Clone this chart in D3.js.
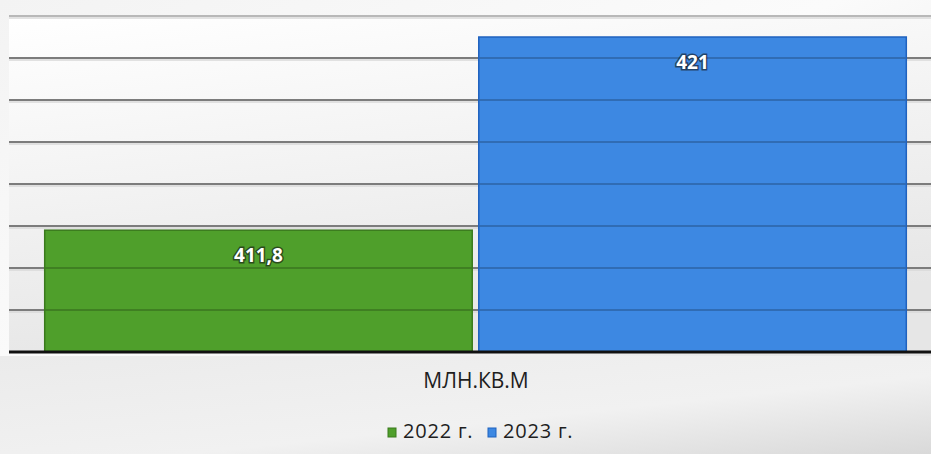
<!DOCTYPE html>
<html>
<head>
<meta charset="utf-8">
<style>
  body { margin: 0; background: #fff; }
  svg { display: block; }
</style>
</head>
<body>
<div id="chart"></div>
<script src="https://cdn.jsdelivr.net/npm/d3@7"></script>
<script>
var category = "МЛН.КВ.М"
var seriesNames = ["2022 г.", "2023 г."]
var seriesValues = [411.8, 421]
var valueLabels = ["411,8", "421"]
var seriesColors = ["#4f9f2b", "#3d88e2"]
var borderColors = ["#3a7a1d", "#1f62bf"]
var yDomain = [406, 422]
var yTicks = [406, 408, 410, 412, 414, 416, 418, 420, 422]

var W = 931, H = 454
// the plot area runs a little past the right edge of the picture
var plot = {left: 9, right: 942, top: 16, bottom: 352}

var svg = d3.select("#chart").append("svg")
  .attr("width", W).attr("height", H)

var defs = svg.append("defs")
var bg = defs.append("linearGradient").attr("id", "bg")
  .attr("x1", 0).attr("y1", 0).attr("x2", 1).attr("y2", 1)
bg.append("stop").attr("offset", "0%").attr("stop-color", "#f3f3f3")
bg.append("stop").attr("offset", "45%").attr("stop-color", "#fbfbfb")
bg.append("stop").attr("offset", "100%").attr("stop-color", "#dedede")

var lower = defs.append("linearGradient").attr("id", "lower")
  .attr("x1", 0).attr("y1", 0).attr("x2", 1).attr("y2", 1)
lower.append("stop").attr("offset", "0%").attr("stop-color", "#ebebeb")
lower.append("stop").attr("offset", "60%").attr("stop-color", "#f1f1f1")
lower.append("stop").attr("offset", "100%").attr("stop-color", "#d9d9d9")

var plotBg = defs.append("linearGradient").attr("id", "plotbg")
  .attr("x1", 0).attr("y1", 0).attr("x2", 0.3).attr("y2", 1)
plotBg.append("stop").attr("offset", "0%").attr("stop-color", "#ffffff")
plotBg.append("stop").attr("offset", "100%").attr("stop-color", "#e6e6e6")

svg.append("rect").attr("width", W).attr("height", H).attr("fill", "url(#bg)")
svg.append("rect").attr("x", plot.left).attr("y", plot.top)
  .attr("width", W - plot.left).attr("height", plot.bottom - plot.top)
  .attr("fill", "url(#plotbg)")
svg.append("rect").attr("x", 0).attr("y", plot.bottom + 4)
  .attr("width", W).attr("height", H - plot.bottom - 4)
  .attr("fill", "url(#lower)")

var y = d3.scaleLinear().domain(yDomain).range([plot.bottom, plot.top])
var x0 = d3.scaleBand().domain([category]).range([plot.left, plot.right]).paddingInner(0).paddingOuter(0.0405)
var x1 = d3.scaleBand().domain(seriesNames).range([0, x0.bandwidth()]).paddingInner(0.0116)

// gridlines under bars
var grid = svg.append("g")
grid.selectAll("line.shadow").data(yTicks.slice(1)).enter().append("line")
  .attr("x1", plot.left).attr("x2", plot.right)
  .attr("y1", d => y(d) + 2).attr("y2", d => y(d) + 2)
  .attr("stroke", "#d8d8d8").attr("stroke-width", 1.5)
grid.selectAll("line.main").data(yTicks.slice(1)).enter().append("line")
  .attr("x1", plot.left).attr("x2", plot.right)
  .attr("y1", d => y(d)).attr("y2", d => y(d))
  .attr("stroke", (d, i) => i === yTicks.length - 2 ? "#b8b8b8" : "#7c7c7c")
  .attr("stroke-width", 2)

// bars
var bars = svg.append("g").attr("transform", "translate(" + x0(category) + ",0)")
bars.selectAll("rect").data(seriesValues).enter().append("rect")
  .attr("x", (d, i) => x1(seriesNames[i]) + 0.75)
  .attr("y", d => y(d))
  .attr("width", x1.bandwidth() - 1.5)
  .attr("height", d => plot.bottom - y(d))
  .attr("fill", (d, i) => seriesColors[i])
  .attr("stroke", (d, i) => borderColors[i])
  .attr("stroke-width", 1.5)

// gridlines showing through bars
seriesValues.forEach(function(v, i) {
  bars.selectAll("line.g" + i).data(yTicks.filter(t => t > yDomain[0] && t < v)).enter().append("line")
    .attr("x1", x1(seriesNames[i]) + 1.5).attr("x2", x1(seriesNames[i]) + x1.bandwidth() - 1.5)
    .attr("y1", d => y(d)).attr("y2", d => y(d))
    .attr("stroke", "rgba(0,0,0,0.2)").attr("stroke-width", 2)
})

// value labels
bars.selectAll("text").data(seriesValues).enter().append("text")
  .attr("x", (d, i) => x1(seriesNames[i]) + x1.bandwidth() / 2)
  .attr("y", d => y(d) + 32)
  .attr("text-anchor", "middle")
  .attr("font-family", "'Open Sans', 'DejaVu Sans', sans-serif")
  .attr("font-weight", "bold")
  .attr("font-size", 19)
  .attr("fill", "#fff")
  .attr("stroke", "rgba(20,20,20,0.6)")
  .attr("stroke-width", 3)
  .attr("paint-order", "stroke")
  .text((d, i) => valueLabels[i])

// baseline
svg.append("line")
  .attr("x1", plot.left).attr("x2", plot.right)
  .attr("y1", y(yDomain[0])).attr("y2", y(yDomain[0]))
  .attr("stroke", "#111").attr("stroke-width", 3)

// category label
svg.append("text")
  .attr("x", 476)
  .attr("y", 388)
  .attr("text-anchor", "middle")
  .attr("font-family", "'Open Sans', 'DejaVu Sans', sans-serif")
  .attr("font-size", 21)
  .attr("fill", "#1e1e1e")
  .text(category)

// legend
var legend = svg.append("g").attr("transform", "translate(388,438)")
var lx = [0, 100]
seriesNames.forEach(function(name, i) {
  var g = legend.append("g").attr("transform", "translate(" + lx[i] + ",0)")
  g.append("rect").attr("x", 0).attr("y", -10).attr("width", 8).attr("height", 9)
    .attr("fill", seriesColors[i]).attr("stroke", borderColors[i]).attr("stroke-width", 1)
  g.append("text").attr("x", 15).attr("y", 0)
    .attr("font-family", "'Open Sans', 'DejaVu Sans', sans-serif")
    .attr("font-size", 20).attr("letter-spacing", 0.8).attr("fill", "#1e1e1e")
    .text(name)
})
</script>
</body>
</html>
